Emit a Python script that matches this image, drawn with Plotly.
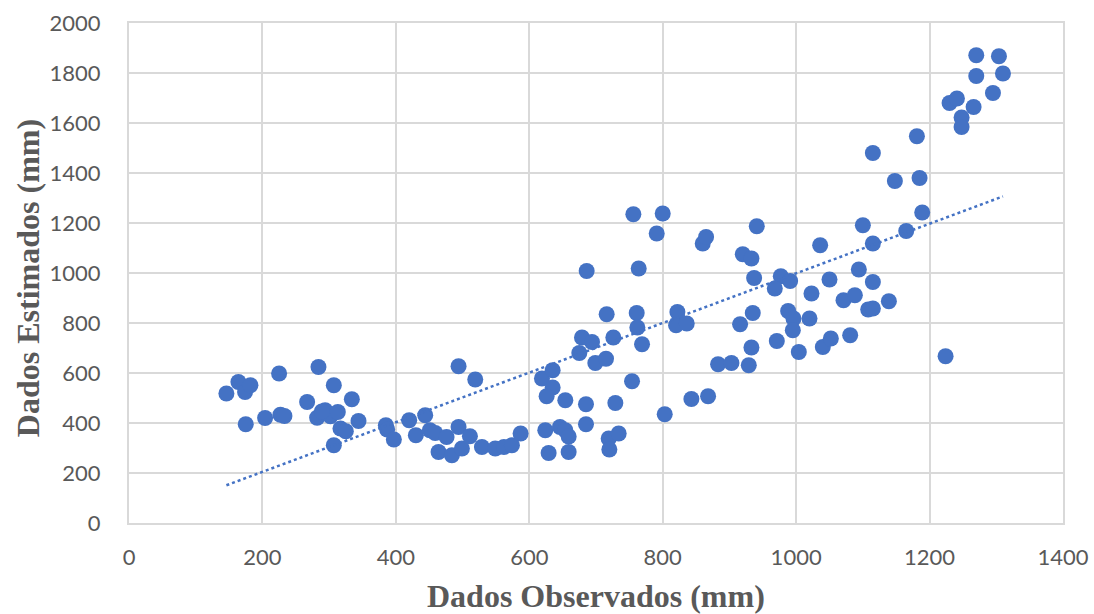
import numpy as np
import plotly.graph_objects as go

obs = [146, 164, 174, 182, 175, 204, 225, 227, 233, 284, 307, 267, 334, 282, 294, 302, 313, 289,
       317, 325, 344, 307, 385, 387, 397, 420,
       444, 430, 451, 459, 464, 476, 484, 494, 494, 499, 511, 519, 529, 549, 562, 574, 587,
       619, 635, 635, 626, 654, 624, 629, 646, 654, 659, 659, 685, 685, 675, 679, 694, 699, 715,
       726, 729, 719, 734, 720, 754, 769, 803,
       756, 800, 791, 686, 764, 860, 865, 941, 920, 933, 937, 977, 991, 968, 1036, 1100, 1115,
       1050, 1094, 1115, 1023, 1071, 1088, 1108, 1115, 716, 761, 762, 822, 820, 836, 935, 916,
       988, 996, 995, 1020, 933, 971, 1004, 1040, 1052, 1081, 883, 903, 929, 843, 868,
       1189, 1165, 1139, 1224,
       1270, 1304, 1270, 1310, 1295, 1230, 1241, 1266, 1248, 1248, 1181, 1115, 1148, 1185]
est = [518, 564, 524, 551, 395, 420, 598, 433, 428, 624, 551, 484, 495, 421, 451, 427, 444, 446,
       378, 367, 408, 311, 391, 374, 334, 411,
       431, 351, 371, 360, 284, 344, 271, 384, 627, 298, 347, 574, 304, 298, 304, 311, 358,
       578, 611, 542, 507, 491, 371, 280, 384, 371, 346, 284, 475, 395, 680, 742, 724, 640, 657,
       742, 480, 338, 358, 294, 567, 715, 435,
       1235, 1238, 1158, 1008, 1018, 1118, 1144, 1187, 1075, 1058, 980, 987, 968, 938, 1111, 1191, 1118,
       974, 1014, 964, 918, 891, 911, 854, 858, 835, 840, 782, 844, 791, 798, 840, 795,
       848, 818, 771, 818, 702, 728, 684, 704, 738, 751, 635, 640, 631, 496, 507,
       1242, 1168, 887, 667,
       1871, 1867, 1788, 1798, 1720, 1680, 1698, 1664, 1622, 1584, 1547, 1480, 1368, 1380]

x_ticks = [0, 200, 400, 600, 800, 1000, 1200, 1400]
y_ticks = [0, 200, 400, 600, 800, 1000, 1200, 1400, 1600, 1800, 2000]
x_title = "Dados Observados (mm)"
y_title = "Dados Estimados (mm)"

x_arr = np.array(obs, dtype=float)
y_arr = np.array(est, dtype=float)
slope, intercept = np.polyfit(x_arr, y_arr, 1)
trend_x = np.array([x_arr.min(), x_arr.max()])
trend_y = slope * trend_x + intercept

blue = "#4472C4"
grid = "#D9D9D9"
txt = "#595959"
title_font = dict(family="Liberation Serif, Times New Roman, serif", size=32, color=txt, weight="bold")

fig = go.Figure()
fig.add_trace(go.Scatter(x=obs, y=est, mode="markers",
                         marker=dict(color=blue, size=16, line=dict(width=0)),
                         showlegend=False, hoverinfo="x+y"))
fig.add_trace(go.Scatter(x=trend_x, y=trend_y, mode="lines",
                         line=dict(color=blue, width=2.5, dash="dot"),
                         showlegend=False, hoverinfo="skip"))

fig.update_layout(
    width=1094, height=614,
    margin=dict(l=129, r=31, t=23, b=91),
    paper_bgcolor="white", plot_bgcolor="white",
    font=dict(family="Lato, Liberation Sans, sans-serif", color=txt, size=22),
    xaxis=dict(range=[0, 1400], tickvals=x_ticks, showgrid=True, gridcolor=grid, gridwidth=2,
               zeroline=False, showline=True, linecolor=grid, linewidth=2, mirror=True,
               ticks="outside", ticklen=0, ticklabelstandoff=14, automargin=False,
               tickfont=dict(size=22, color=txt)),
    yaxis=dict(range=[0, 2000], tickvals=y_ticks, showgrid=True, gridcolor=grid, gridwidth=2,
               zeroline=False, showline=True, linecolor=grid, linewidth=2, mirror=True,
               ticks="outside", ticklen=0, ticklabelstandoff=22, automargin=False,
               tickfont=dict(size=22, color=txt)),
    annotations=[
        dict(text=x_title, xref="paper", yref="paper", x=0.5, y=-0.146,
             xanchor="center", yanchor="middle", showarrow=False, font=title_font),
        dict(text=y_title, xref="paper", yref="paper", x=-0.108, y=0.49,
             xanchor="center", yanchor="middle", showarrow=False, textangle=-90, font=title_font),
    ],
)

fig.write_html("out.html", config={"displayModeBar": False},
               post_script="document.body.style.margin='0';")
